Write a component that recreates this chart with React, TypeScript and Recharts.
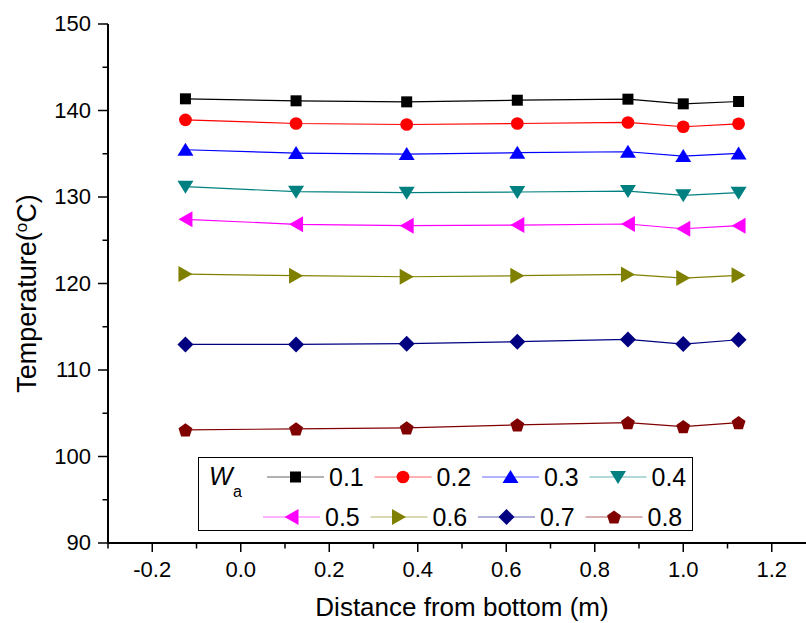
import { LineChart, Line, XAxis, YAxis, Legend, Label } from 'recharts'

const X_POS = [-0.125, 0.125, 0.375, 0.625, 0.875, 1.0, 1.125]

const T_01 = [141.35, 141.12, 141.0, 141.19, 141.31, 140.77, 141.04]
const T_02 = [138.92, 138.5, 138.38, 138.5, 138.62, 138.12, 138.46]
const T_03 = [135.46, 135.08, 134.96, 135.12, 135.23, 134.73, 135.04]
const T_04 = [131.19, 130.62, 130.5, 130.58, 130.69, 130.19, 130.5]
const T_05 = [127.42, 126.84, 126.68, 126.76, 126.88, 126.33, 126.68]
const T_06 = [121.09, 120.9, 120.78, 120.9, 121.05, 120.63, 120.94]
const T_07 = [112.96, 112.96, 113.04, 113.27, 113.54, 113.0, 113.5]
const T_08 = [103.08, 103.19, 103.31, 103.65, 103.92, 103.46, 103.92]

const SERIES_NAMES = ['0.1', '0.2', '0.3', '0.4', '0.5', '0.6', '0.7', '0.8']
const SERIES_KEYS = ['w01', 'w02', 'w03', 'w04', 'w05', 'w06', 'w07', 'w08']
const SERIES_VALUES = [T_01, T_02, T_03, T_04, T_05, T_06, T_07, T_08]
const SERIES_COLORS = ['#000000', '#FF0000', '#0000FF', '#008080', '#FF00FF', '#808000', '#000080', '#800000']
const SERIES_SHAPES = ['square', 'circle', 'up', 'down', 'left', 'right', 'diamond', 'pentagon']

const X_TICKS = [-0.3, -0.2, -0.1, 0, 0.1, 0.2, 0.3, 0.4, 0.5, 0.6, 0.7, 0.8, 0.9, 1.0, 1.1, 1.2, 1.3]
const Y_TICKS = [90, 95, 100, 105, 110, 115, 120, 125, 130, 135, 140, 145, 150]

const FONT = '"Liberation Sans", Arial, Helvetica, sans-serif'

const chartData = X_POS.map((x, i) => {
  const row: Record<string, number> = { x }
  SERIES_KEYS.forEach((k, s) => {
    row[k] = SERIES_VALUES[s][i]
  })
  return row
})

function Marker({ shape, cx, cy, color }: { shape: string; cx: number; cy: number; color: string }) {
  switch (shape) {
    case 'square':
      return <rect x={cx - 5.5} y={cy - 5.5} width={11} height={11} fill={color} />
    case 'circle':
      return <ellipse cx={cx} cy={cy} rx={6.4} ry={6.3} fill={color} />
    case 'up':
      return <polygon points={`${cx},${cy - 7} ${cx + 8},${cy + 6} ${cx - 8},${cy + 6}`} fill={color} />
    case 'down':
      return <polygon points={`${cx},${cy + 7} ${cx + 8},${cy - 6} ${cx - 8},${cy - 6}`} fill={color} />
    case 'left':
      return <polygon points={`${cx - 7},${cy} ${cx + 7},${cy - 8} ${cx + 7},${cy + 8}`} fill={color} />
    case 'right':
      return <polygon points={`${cx + 7},${cy} ${cx - 7},${cy - 8} ${cx - 7},${cy + 8}`} fill={color} />
    case 'diamond':
      return <polygon points={`${cx},${cy - 8} ${cx + 8},${cy} ${cx},${cy + 8} ${cx - 8},${cy}`} fill={color} />
    default: {
      const r = 7.3
      const pts = [0, 1, 2, 3, 4]
        .map((k) => {
          const a = -Math.PI / 2 + (k * 2 * Math.PI) / 5
          return `${cx + r * Math.cos(a)},${cy + 0.7 + r * Math.sin(a)}`
        })
        .join(' ')
      return <polygon points={pts} fill={color} />
    }
  }
}

function BottomTick(props: any) {
  const { x, y, payload } = props
  const v = payload.value
  const major = Math.round(v * 10) % 2 === 0
  return (
    <g>
      <line x1={x} x2={x} y1={y} y2={y + (major ? 9 : 5.5)} stroke="#000" strokeWidth={1.5} />
      {major && (
        <text x={x} y={y + 34} textAnchor="middle" fontFamily={FONT} fontSize={22} fill="#000">
          {v.toFixed(1)}
        </text>
      )}
    </g>
  )
}

function TopTick(props: any) {
  const { x, y, payload } = props
  const major = Math.round(payload.value * 10) % 2 === 0
  return <line x1={x} x2={x} y1={y} y2={y + (major ? 4 : 2.5)} stroke="#000" strokeWidth={1.2} />
}

function LeftTick(props: any) {
  const { x, y, payload } = props
  const v = payload.value
  const major = v % 10 === 0
  return (
    <g>
      <line x1={x - (major ? 10 : 5.5)} x2={x} y1={y} y2={y} stroke="#000" strokeWidth={1.5} />
      {major && (
        <text x={x - 17} y={y + 7} textAnchor="end" fontFamily={FONT} fontSize={22} fill="#000">
          {v}
        </text>
      )}
    </g>
  )
}

function XTitle(props: any) {
  const { x, y, width } = props.viewBox
  return (
    <text x={x + width / 2} y={y + 73} textAnchor="middle" fontFamily={FONT} fontSize={26} fill="#000">
      Distance from bottom (m)
    </text>
  )
}

function YTitle(props: any) {
  const { x, y, height } = props.viewBox
  const cx = x + 36
  const cy = y + height / 2 + 10
  return (
    <text
      x={cx}
      y={cy}
      transform={`rotate(-90, ${cx}, ${cy})`}
      textAnchor="middle"
      fontFamily={FONT}
      fontSize={27}
      fill="#000"
    >
      <tspan>Temperature(</tspan>
      <tspan dy={-9} fontSize={17}>o</tspan>
      <tspan dy={9}>C)</tspan>
    </text>
  )
}

function LegendBox() {
  const rowY = [20, 60]
  const rowStart = [69, 65]
  return (
    <svg width={495} height={74} style={{ display: 'block' }}>
      <rect x={0.5} y={0.5} width={494} height={73} fill="#fff" stroke="#000" strokeWidth={1} />
      <text x={11} y={28} fontFamily={FONT} fontSize={25} fontStyle="italic" fill="#000">
        W
      </text>
      <text x={35} y={40} fontFamily={FONT} fontSize={16} fill="#000">
        a
      </text>
      {SERIES_NAMES.map((name, i) => {
        const row = i < 4 ? 0 : 1
        const col = i % 4
        const x0 = rowStart[row] + col * 107.5
        const cy = rowY[row]
        return (
          <g key={name}>
            <line x1={x0} x2={x0 + 57} y1={cy} y2={cy} stroke={SERIES_COLORS[i]} strokeWidth={1.2} strokeOpacity={0.6} />
            <Marker shape={SERIES_SHAPES[i]} cx={x0 + 28.5} cy={cy} color={SERIES_COLORS[i]} />
            <text x={x0 + 62} y={cy + 9} fontFamily={FONT} fontSize={25} fill="#000">
              {name}
            </text>
          </g>
        )
      })}
    </svg>
  )
}

export default function App() {
  return (
    <div
      style={{
        position: 'absolute',
        left: 0,
        top: 0,
        width: 806,
        height: 623,
        overflow: 'hidden',
        background: '#fff',
      }}
    >
      <LineChart width={826} height={623} data={chartData} margin={{ top: 24, right: 10, bottom: 0, left: 0 }}>
        <XAxis
          dataKey="x"
          type="number"
          domain={[-0.3, 1.3]}
          ticks={X_TICKS}
          interval={0}
          height={80}
          tickSize={0}
          tickMargin={0}
          tickLine={false}
          tick={<BottomTick />}
          axisLine={{ stroke: '#000', strokeWidth: 2 }}
        >
          <Label content={<XTitle />} />
        </XAxis>
        <XAxis
          xAxisId="top"
          dataKey="x"
          type="number"
          orientation="top"
          domain={[-0.3, 1.3]}
          ticks={X_TICKS}
          interval={0}
          height={0}
          tickSize={0}
          tickMargin={0}
          tickLine={false}
          tick={<TopTick />}
          axisLine={{ stroke: '#000', strokeWidth: 2 }}
        />
        <YAxis
          type="number"
          domain={[90, 150]}
          ticks={Y_TICKS}
          interval={0}
          width={108}
          tickSize={0}
          tickMargin={0}
          tickLine={false}
          tick={<LeftTick />}
          axisLine={{ stroke: '#000', strokeWidth: 2 }}
        >
          <Label content={<YTitle />} />
        </YAxis>
        <Legend
          layout="horizontal"
          verticalAlign="middle"
          align="center"
          content={<LegendBox />}
          wrapperStyle={{ left: 198, top: 457, width: 495, height: 74 }}
        />
        {SERIES_KEYS.map((k, s) => (
          <Line
            key={k}
            dataKey={k}
            name={SERIES_NAMES[s]}
            stroke={SERIES_COLORS[s]}
            strokeWidth={1.2}
            isAnimationActive={false}
            activeDot={false}
            dot={(p: any) => (
              <Marker key={`${k}-${p.index}`} shape={SERIES_SHAPES[s]} cx={p.cx} cy={p.cy} color={SERIES_COLORS[s]} />
            )}
          />
        ))}
      </LineChart>
    </div>
  )
}
